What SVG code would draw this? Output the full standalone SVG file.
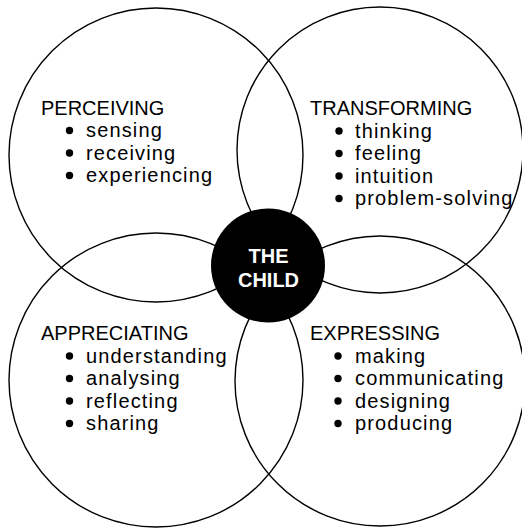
<svg xmlns="http://www.w3.org/2000/svg" width="522" height="528" viewBox="0 0 522 528">
  <style>
    .ring { fill: none; stroke: #000; stroke-width: 1.4; }
    .head { font-family: "Liberation Sans", Arial, sans-serif; font-size: 20px; fill: #000; }
    .item { font-family: "Liberation Sans", Arial, sans-serif; font-size: 20px; letter-spacing: 1.15px; fill: #000; }
    .dot { fill: #000; }
    .core { fill: #000; }
    .core-text { font-family: "Liberation Sans", Arial, sans-serif; font-size: 20px; font-weight: bold; fill: #fff; text-anchor: middle; }
  </style>
  <rect width="522" height="528" fill="#fff"/>

  <!-- the four overlapping rings -->
  <g id="rings">
    <circle class="ring" cx="156" cy="155" r="147"/>
    <circle class="ring" cx="380" cy="150" r="143"/>
    <circle class="ring" cx="156" cy="380" r="147"/>
    <circle class="ring" cx="380" cy="381" r="145"/>
  </g>

  <g id="perceiving">
    <text class="head" x="41" y="114.5">PERCEIVING</text>
    <circle class="dot" cx="69.5" cy="130.5" r="3.7"/>
    <text class="item" x="86" y="137">sensing</text>
    <circle class="dot" cx="69.5" cy="153" r="3.7"/>
    <text class="item" x="86" y="159.5">receiving</text>
    <circle class="dot" cx="69.5" cy="175.5" r="3.7"/>
    <text class="item" x="86" y="182">experiencing</text>
  </g>

  <g id="transforming">
    <text class="head" x="310" y="115">TRANSFORMING</text>
    <circle class="dot" cx="339" cy="131" r="3.7"/>
    <text class="item" x="355" y="137.5">thinking</text>
    <circle class="dot" cx="339" cy="153.5" r="3.7"/>
    <text class="item" x="355" y="160">feeling</text>
    <circle class="dot" cx="339" cy="176" r="3.7"/>
    <text class="item" x="355" y="182.5">intuition</text>
    <circle class="dot" cx="339" cy="198.5" r="3.7"/>
    <text class="item" x="355" y="205">problem-solving</text>
  </g>

  <g id="appreciating">
    <text class="head" x="41" y="340">APPRECIATING</text>
    <circle class="dot" cx="69.5" cy="356" r="3.7"/>
    <text class="item" x="86" y="362.5">understanding</text>
    <circle class="dot" cx="69.5" cy="378.5" r="3.7"/>
    <text class="item" x="86" y="385">analysing</text>
    <circle class="dot" cx="69.5" cy="401" r="3.7"/>
    <text class="item" x="86" y="407.5">reflecting</text>
    <circle class="dot" cx="69.5" cy="423.5" r="3.7"/>
    <text class="item" x="86" y="430">sharing</text>
  </g>

  <g id="expressing">
    <text class="head" x="310" y="340">EXPRESSING</text>
    <circle class="dot" cx="338" cy="356" r="3.7"/>
    <text class="item" x="355" y="362.5">making</text>
    <circle class="dot" cx="338" cy="378.5" r="3.7"/>
    <text class="item" x="355" y="385">communicating</text>
    <circle class="dot" cx="338" cy="401" r="3.7"/>
    <text class="item" x="355" y="407.5">designing</text>
    <circle class="dot" cx="338" cy="423.5" r="3.7"/>
    <text class="item" x="355" y="430">producing</text>
  </g>

  <g id="the-child">
    <circle class="core" cx="268" cy="265.5" r="57"/>
    <text class="core-text" x="268.5" y="262.5">THE</text>
    <text class="core-text" x="268.5" y="287">CHILD</text>
  </g>
</svg>
